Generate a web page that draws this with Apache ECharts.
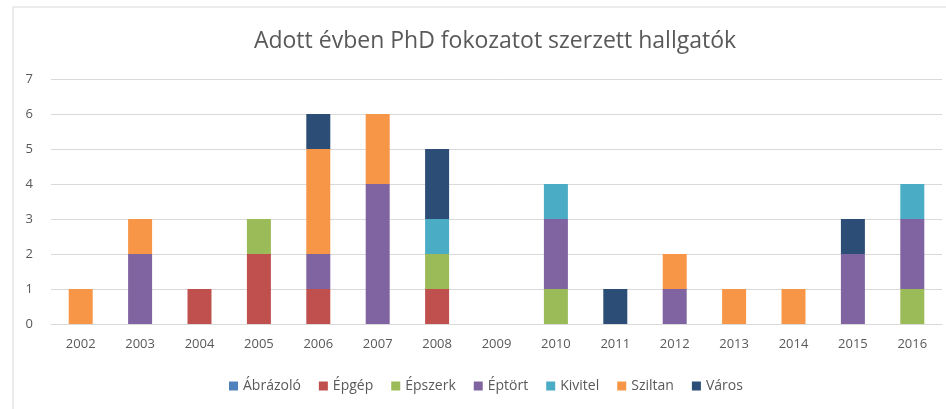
<!DOCTYPE html>
<html>
<head>
<meta charset="utf-8">
<script src="https://cdn.jsdelivr.net/npm/echarts@6/dist/echarts.min.js"></script>
<style>
html, body { margin: 0; padding: 0; background: #fff; }
#chart { width: 946px; height: 409px; }
</style>
</head>
<body>
<div id="chart"></div>
<script>
var years = ['2002', '2003', '2004', '2005', '2006', '2007', '2008', '2009', '2010', '2011', '2012', '2013', '2014', '2015', '2016'];

var abrazolo = [0, 0, 0, 0, 0, 0, 0, 0, 0, 0, 0, 0, 0, 0, 0];
var epgep    = [0, 0, 1, 2, 1, 0, 1, 0, 0, 0, 0, 0, 0, 0, 0];
var epszerk  = [0, 0, 0, 1, 0, 0, 1, 0, 1, 0, 0, 0, 0, 0, 1];
var eptort   = [0, 2, 0, 0, 1, 4, 0, 0, 2, 0, 1, 0, 0, 2, 2];
var kivitel  = [0, 0, 0, 0, 0, 0, 1, 0, 1, 0, 0, 0, 0, 0, 1];
var sziltan  = [1, 1, 0, 0, 3, 2, 0, 0, 0, 0, 1, 1, 1, 0, 0];
var varos    = [0, 0, 0, 0, 1, 0, 2, 0, 0, 1, 0, 0, 0, 1, 0];

var seriesNames = ['Ábrázoló', 'Épgép', 'Épszerk', 'Éptört', 'Kivitel', 'Sziltan', 'Város'];
var seriesData = [abrazolo, epgep, epszerk, eptort, kivitel, sziltan, varos];
var colors = ['#4F81BD', '#C0504D', '#9BBB59', '#8064A2', '#4BACC6', '#F79646', '#2C4D75'];

var myChart = echarts.init(document.getElementById('chart'));

var series = [];
for (var i = 0; i < seriesNames.length; i++) {
	series.push({
		name: seriesNames[i],
		type: 'bar',
		stack: 'total',
		barWidth: 24,
		itemStyle: { color: colors[i] },
		data: seriesData[i].map(function (v) { return v === 0 ? null : v; })
	});
}

var option = {
	animation: false,
	textStyle: { fontFamily: 'Open Sans' },
	graphic: [{
		type: 'rect',
		shape: { x: 13, y: 7, width: 1000, height: 1000 },
		style: { fill: 'none', stroke: '#d9d9d9', lineWidth: 1 }
	}],
	title: {
		text: 'Adott évben PhD fokozatot szerzett hallgatók',
		left: 490,
		top: 25,
		textAlign: 'center',
		textStyle: { color: '#595959', fontSize: 23, fontWeight: 'normal', fontFamily: 'Open Sans' }
	},
	legend: {
		data: seriesNames,
		left: 224,
		top: 374,
		itemWidth: 9,
		itemHeight: 9,
		itemGap: 18,
		icon: 'rect',
		textStyle: { color: '#595959', fontSize: 14 }
	},
	grid: { left: 51, right: 4, top: 79, bottom: 85 },
	xAxis: {
		type: 'category',
		data: years,
		axisTick: { show: false },
		axisLine: { lineStyle: { color: '#d9d9d9', width: 1 } },
		axisLabel: { color: '#595959', fontSize: 13, margin: 14 }
	},
	yAxis: {
		type: 'value',
		min: 0,
		max: 7,
		interval: 1,
		axisLine: { show: false },
		axisTick: { show: false },
		splitLine: { lineStyle: { color: '#d9d9d9' } },
		axisLabel: { color: '#595959', fontSize: 13, margin: 18 }
	},
	series: series
};

myChart.setOption(option);
</script>
</body>
</html>
